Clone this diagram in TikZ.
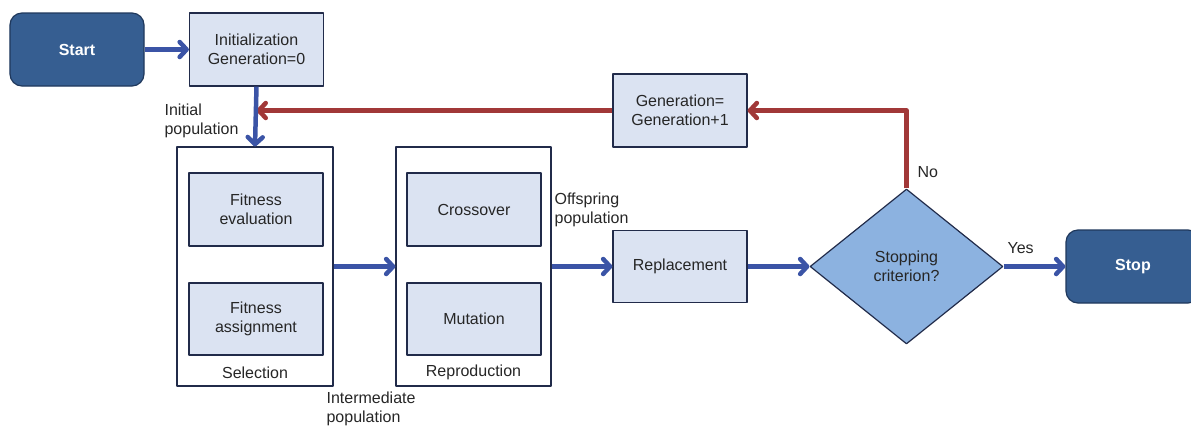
\documentclass[tikz,border=0pt]{standalone}
\usepackage{fontspec}
\setmainfont{Liberation Sans}
\usepackage[x11names, rgb]{xcolor}
\usetikzlibrary{arrows.meta,shapes}

\definecolor{termfill}{rgb}{0.21,0.37,0.57}
\definecolor{termline}{rgb}{0.12,0.22,0.36}
\definecolor{stepfill}{rgb}{0.86,0.89,0.95}
\definecolor{stepline}{rgb}{0.13,0.17,0.29}
\definecolor{critfill}{rgb}{0.55,0.70,0.88}
\definecolor{flowblue}{rgb}{0.23,0.33,0.65}
\definecolor{loopred}{rgb}{0.63,0.22,0.22}

\begin{document}
\begin{tikzpicture}[x=1bp,y=-1bp,>={Straight Barb[length=7bp,width=15bp,round]},line join=bevel,
  every node/.style={font=\fontsize{16bp}{18.5bp}\selectfont,text=black!85,inner sep=0pt},
  terminal/.style={draw=termline,fill=termfill,rounded corners=12bp,minimum width=134bp,minimum height=73bp,text=white,font=\fontsize{16bp}{18.5bp}\selectfont\bfseries},
  stepbox/.style={draw=stepline,fill=stepfill,minimum width=134bp,minimum height=73bp,align=center},
  groupbox/.style={draw=stepline,fill=white,minimum width=156bp,minimum height=239bp},
  critbox/.style={diamond,draw=stepline,fill=critfill,minimum width=193bp,minimum height=155bp,align=center},
  flow/.style={->,draw=flowblue,line width=4.5bp},
  loop/.style={->,draw=loopred,line width=4.5bp,line join=round},
  note/.style={align=left,anchor=west}]
  \pgfsetlinewidth{1.2bp}
  \useasboundingbox (0,0) rectangle (1191,426);
%%
  % Node: start
  \node[terminal] (start) at (77,49.5) {Start};
  % Node: init
  \node[stepbox] (init) at (256.5,49.5) {Initialization\\Generation=0};
  % Node: gen
  \node[stepbox] (gen) at (680,110.5) {Generation=\\Generation+1};
  % Node: sel
  \node[groupbox] (sel) at (255,266.5) {};
  \node[stepbox] (feval) at (256,209.5) {Fitness\\evaluation};
  \node[stepbox,minimum height=72bp] (fassign) at (256,319) {Fitness\\assignment};
  \node (selname) at (255,372.5) {Selection};
  % Node: rep
  \node[groupbox,minimum width=155bp] (rep) at (473.5,266.5) {};
  \node[stepbox] (cross) at (474,209.5) {Crossover};
  \node[stepbox,minimum height=72bp] (mut) at (474,319) {Mutation};
  \node (repname) at (473.5,372.5) {Reproduction};
  % Node: repl
  \node[stepbox,minimum height=72bp] (repl) at (680,266.5) {Replacement};
  % Node: crit
  \node[critbox] (crit) at (906.5,266.5) {Stopping\\criterion?};
  % Node: stop
  \node[terminal] (stop) at (1133,266.5) {Stop};
%
  % Edge: crit -> gen -> init (No)
  \draw[loop] (crit.north) |- (gen.east);
  \draw[loop] (gen.west) -- (init.south |- gen.west);
  \node[note] (nolbl) at (917,172) {No};
  % Edge: start -> init
  \draw[flow] (start.east) -- (init.west);
  % Edge: init -> sel
  \draw[flow] (init.south) -- (sel.north);
  \node[note] (initlbl) at (164,121) {Initial\\population};
  % Edge: sel -> rep
  \draw[flow] (sel.east) -- (rep.west);
  \node[note] (interlbl) at (326,409) {Intermediate\\population};
  % Edge: rep -> repl
  \draw[flow] (rep.east) -- (repl.west);
  \node[note] (offlbl) at (554,210) {Offspring\\population};
  % Edge: repl -> crit
  \draw[flow] (repl.east) -- (crit.west);
  % Edge: crit -> stop (Yes)
  \draw[flow] (crit.east) -- (stop.west);
  \node[note] (yeslbl) at (1007,248) {Yes};
%
\end{tikzpicture}
\end{document}
